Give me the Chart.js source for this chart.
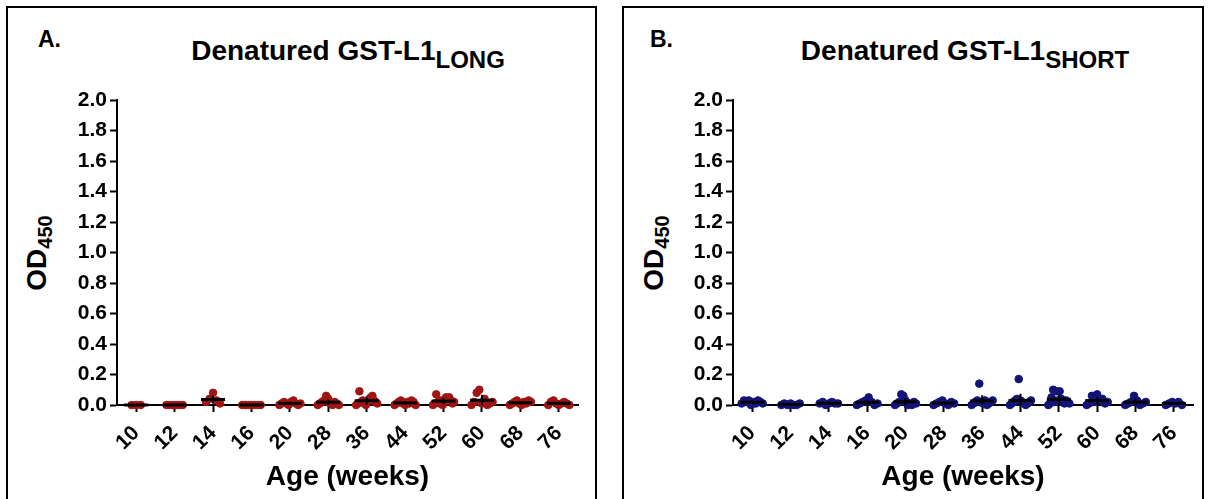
<!DOCTYPE html>
<html>
<head>
<meta charset="utf-8">
<script src="https://cdn.jsdelivr.net/npm/chart.js@4.4.0/dist/chart.umd.min.js"></script>
<style>
  body { margin: 0; background: #fff; width: 1209px; height: 499px; overflow: hidden; position: relative; font-family: "Liberation Sans", Arial, sans-serif; }
  .box { position: absolute; top: 6px; height: 520px; border: 2px solid #000; box-sizing: border-box; }
  .cv { position: absolute; top: 9px; }
  .letter { position: absolute; top: 26px; font-size: 23px; font-weight: bold; }
  .title { position: absolute; top: 35px; width: 460px; text-align: center; font-size: 28px; font-weight: bold; white-space: nowrap; }
  .title sub { font-size: 24px; vertical-align: -8px; line-height: 0; }
  .ytitle { position: absolute; width: 120px; height: 34px; text-align: center; font-size: 28px; font-weight: bold; transform: rotate(-90deg); white-space: nowrap; }
  .ytitle sub { font-size: 20px; vertical-align: -6px; line-height: 0; }
</style>
</head>
<body>
<div class="box" style="left:6px;width:591px;"></div>
<div class="box" style="left:622px;width:582px;"></div>

<div class="letter" style="left:38px;">A.</div>
<div class="title" style="left:118px;">Denatured GST-L1<sub>LONG</sub></div>
<div class="ytitle" style="left:-22px;top:236px;">OD<sub>450</sub></div>

<div class="letter" style="left:650px;">B.</div>
<div class="title" style="left:735px;">Denatured GST-L1<sub>SHORT</sub></div>
<div class="ytitle" style="left:595px;top:236px;">OD<sub>450</sub></div>

<canvas id="chartLong" class="cv" style="left:9px;" width="585" height="490"></canvas>
<canvas id="chartShort" class="cv" style="left:625px;" width="576" height="490"></canvas>

<script>
const categories = ['10', '12', '14', '16', '20', '28', '36', '44', '52', '60', '68', '76'];
const yMin = 0;
const yMax = 2.0;
const yStep = 0.2;

// OD450 per mouse, one list per age group
const longValues = [
  [0.0, 0.0, 0.0],
  [0.0, 0.0, 0.0, 0.0, 0.0, 0.0],
  [0.02, 0.04, 0.08, 0.03, 0.01],
  [0.0, 0.0, 0.0, 0.0, 0.0, 0.0, 0.0],
  [0.0, 0.01, 0.02, 0.01, 0.0, 0.02, 0.03, 0.01, 0.0, 0.01],
  [0.0, 0.01, 0.02, 0.03, 0.06, 0.04, 0.01, 0.0, 0.02, 0.01, 0.0],
  [0.0, 0.01, 0.09, 0.02, 0.03, 0.01, 0.0, 0.02, 0.04, 0.05, 0.06, 0.03, 0.02, 0.01],
  [0.0, 0.01, 0.02, 0.03, 0.01, 0.0, 0.02, 0.01, 0.03, 0.02, 0.0],
  [0.0, 0.01, 0.07, 0.02, 0.01, 0.03, 0.0, 0.02, 0.05, 0.04, 0.05, 0.03, 0.01, 0.02],
  [0.0, 0.02, 0.08, 0.10, 0.01, 0.04, 0.0, 0.01, 0.02],
  [0.0, 0.01, 0.02, 0.03, 0.01, 0.0, 0.02, 0.01, 0.03, 0.02],
  [0.0, 0.02, 0.03, 0.01, 0.0, 0.01, 0.02, 0.01, 0.0]
];

const shortValues = [
  [0.01, 0.03, 0.02, 0.03, 0.0, 0.02, 0.01, 0.03, 0.02, 0.01],
  [0.0, 0.01, 0.0, 0.01, 0.0, 0.0, 0.01],
  [0.01, 0.02, 0.0, 0.01, 0.02, 0.01, 0.01],
  [0.0, 0.01, 0.02, 0.03, 0.05, 0.02, 0.0, 0.01],
  [0.0, 0.01, 0.02, 0.07, 0.06, 0.03, 0.0, 0.01, 0.0, 0.02, 0.01],
  [0.0, 0.01, 0.02, 0.03, 0.01, 0.0, 0.02, 0.01],
  [0.0, 0.01, 0.02, 0.03, 0.14, 0.02, 0.01, 0.03, 0.0, 0.01, 0.02, 0.03],
  [0.0, 0.01, 0.02, 0.03, 0.04, 0.17, 0.03, 0.02, 0.01, 0.0, 0.01, 0.02, 0.03],
  [0.0, 0.01, 0.05, 0.10, 0.02, 0.09, 0.03, 0.09, 0.04, 0.02, 0.01, 0.03, 0.02, 0.01],
  [0.0, 0.01, 0.06, 0.02, 0.07, 0.03, 0.04, 0.01, 0.02],
  [0.0, 0.01, 0.02, 0.06, 0.03, 0.0, 0.01, 0.02],
  [0.0, 0.01, 0.02, 0.01, 0.02, 0.0]
];

// spread the dots of one group sideways so they do not sit on top of each other
function jitter(j, n) {
  if (n < 2) return 0;
  const spread = Math.min(0.55, 0.06 * (n - 1) + 0.12);
  return (j / (n - 1) - 0.5) * spread;
}

function toPoints(groups) {
  return groups.flatMap((grp, i) => grp.map((v, j) => ({ x: i + jitter(j, grp.length), y: v })));
}

function meanSd(grp) {
  const m = grp.reduce((a, b) => a + b, 0) / grp.length;
  const sd = grp.length > 1 ? Math.sqrt(grp.reduce((a, b) => a + (b - m) * (b - m), 0) / (grp.length - 1)) : 0;
  return { m, sd };
}

const meanBars = {
  id: 'meanBars',
  afterDatasetsDraw(chart, args, opts) {
    const { ctx, scales: { x, y } } = chart;
    ctx.save();
    ctx.strokeStyle = '#000';
    opts.groups.forEach((grp, i) => {
      const { m, sd } = meanSd(grp);
      const px = x.getPixelForValue(i);
      const py = y.getPixelForValue(m);
      ctx.lineWidth = 2;
      ctx.beginPath();
      ctx.moveTo(px, y.getPixelForValue(Math.max(0, m - sd)));
      ctx.lineTo(px, y.getPixelForValue(m + sd));
      ctx.stroke();
      ctx.lineWidth = 3;
      ctx.beginPath();
      ctx.moveTo(px - 12, py);
      ctx.lineTo(px + 12, py);
      ctx.stroke();
    });
    ctx.restore();
  }
};

function makeChart(id, groups, color, rightPad) {
  new Chart(document.getElementById(id), {
    type: 'scatter',
    data: {
      datasets: [{
        data: toPoints(groups),
        backgroundColor: color,
        borderColor: color,
        pointRadius: 3.8,
        pointHoverRadius: 3.8,
        clip: false
      }]
    },
    plugins: [meanBars],
    options: {
      responsive: false,
      animation: false,
      layout: { padding: { top: 91, right: rightPad, bottom: 0, left: 0 } },
      plugins: {
        legend: { display: false },
        tooltip: { enabled: false },
        meanBars: { groups: groups }
      },
      scales: {
        x: {
          type: 'linear',
          min: -0.5,
          max: categories.length - 0.5,
          afterBuildTicks: s => { s.ticks = categories.map((c, i) => ({ value: i })); },
          afterFit: s => { s.height = 94; },
          border: { display: true, color: '#000', width: 2 },
          grid: { drawOnChartArea: false, drawTicks: true, tickLength: 7, tickColor: '#000', tickWidth: 2 },
          ticks: {
            autoSkip: false,
            minRotation: 45,
            maxRotation: 45,
            padding: 9,
            color: '#000',
            font: { family: 'Liberation Sans', size: 21, weight: 'bold' },
            callback: v => categories[v]
          },
          title: {
            display: true,
            text: 'Age (weeks)',
            color: '#000',
            font: { family: 'Liberation Sans', size: 28, weight: 'bold' },
            padding: { top: 0, bottom: 5 }
          }
        },
        y: {
          min: yMin,
          max: yMax,
          afterFit: s => { s.width = 108; },
          border: { display: true, color: '#000', width: 2 },
          grid: { drawOnChartArea: false, drawTicks: true, tickLength: 7, tickColor: '#000', tickWidth: 2 },
          ticks: {
            stepSize: yStep,
            padding: 3,
            color: '#000',
            font: { family: 'Liberation Sans', size: 21, weight: 'bold' },
            callback: v => v.toFixed(1)
          }
        }
      }
    }
  });
}

makeChart('chartLong', longValues, '#a01414', 16);
makeChart('chartShort', shortValues, '#141478', 8);
</script>
</body>
</html>
